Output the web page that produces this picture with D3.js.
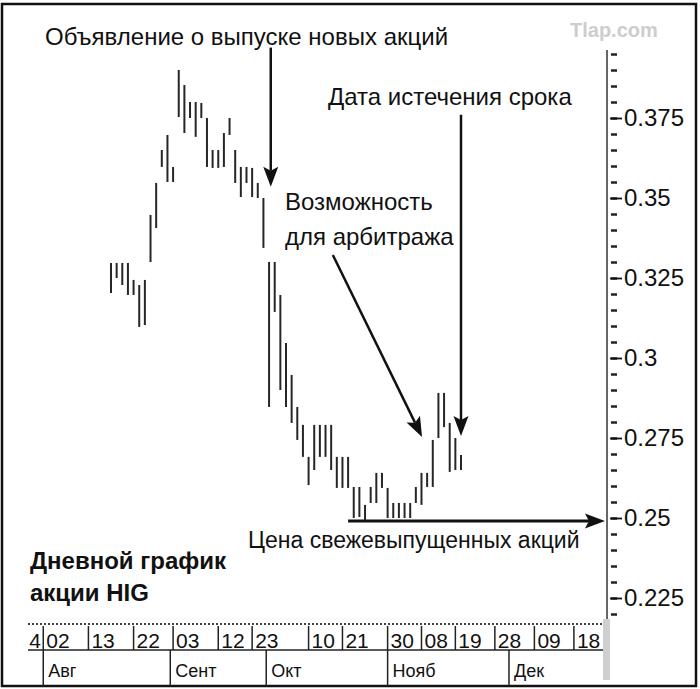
<!DOCTYPE html>
<html>
<head>
<meta charset="utf-8">
<script src="https://cdn.jsdelivr.net/npm/d3@7"></script>
<style>
  body { margin: 0; background: #fff; }
  svg { display: block; font-family: "Liberation Sans", Arial, sans-serif; }
</style>
</head>
<body>
<div id="chart"></div>
<script>
// daily high / low, one entry per trading day
const highs = [0.3297, 0.3297, 0.3297, 0.3297, 0.3244, 0.3228, 0.3244, 0.3447, 0.3547, 0.365,
               0.3697, 0.3597, 0.39, 0.3853, 0.38, 0.38, 0.3797, 0.375, 0.365, 0.365,
               0.3703, 0.375, 0.365, 0.3597, 0.3597, 0.3594, 0.3547, 0.35, 0.33, 0.33,
               0.3197, 0.3047, 0.2947, 0.2847, 0.2791, 0.2691, 0.2791, 0.2791, 0.2791, 0.2791,
               0.2691, 0.2691, 0.2691, 0.2597, 0.2597, 0.2541, 0.2597, 0.2641, 0.2641, 0.2594,
               0.2547, 0.2547, 0.2547, 0.2547, 0.2597, 0.2641, 0.2641, 0.2744, 0.2891, 0.2891,
               0.2797, 0.275, 0.2697];
const lows  = [0.3203, 0.325, 0.3228, 0.3197, 0.3197, 0.3097, 0.3103, 0.33, 0.3406, 0.3597,
               0.355, 0.355, 0.3753, 0.3703, 0.375, 0.3691, 0.375, 0.3597, 0.3594, 0.3594,
               0.3597, 0.3697, 0.3547, 0.3503, 0.3547, 0.3503, 0.35, 0.3344, 0.2847, 0.3144,
               0.29, 0.2847, 0.2797, 0.2744, 0.2691, 0.2603, 0.265, 0.2691, 0.2691, 0.265,
               0.2594, 0.2594, 0.2594, 0.25, 0.2503, 0.2494, 0.2547, 0.2547, 0.2594, 0.25,
               0.25, 0.25, 0.25, 0.25, 0.2547, 0.2541, 0.2597, 0.2597, 0.275, 0.2784,
               0.2644, 0.265, 0.265];

const yTicks = [0.225, 0.25, 0.275, 0.3, 0.325, 0.35, 0.375];

const dayLabels = ["4", "02", "13", "22", "03", "12", "23", "10", "21", "30", "08", "19", "28", "09", "18"];
const dayIndex  = [-15, -12, -4, 4, 11, 19, 25, 35, 41, 49, 55, 61, 68, 75, 82];

const monthLabels = ["Авг", "Сент", "Окт", "Нояб", "Дек"];
const monthIndex  = [-12, 10.5, 27.5, 49, 70.5];

// arrows: [fromIndex, fromValue, toIndex, toValue, strokeWidth]
const arrows = [
    [28.3, 0.397, 28.3, 0.3535, 2.5],
    [62, 0.376, 62, 0.2756, 2.5],
    [39.3, 0.3322, 55.1, 0.2753, 2.5],
    [42, 0.2491, 87.5, 0.2491, 3]
];

const width = 700, height = 689;

const svg = d3.select("#chart")
    .append("svg")
    .attr("width", width)
    .attr("height", height);

svg.append("rect")
    .attr("x", 2).attr("y", 4)
    .attr("width", 694).attr("height", 682)
    .attr("fill", "#fff")
    .attr("stroke", "#111")
    .attr("stroke-width", 2.5);

const x = d3.scaleLinear().domain([0, 62]).range([111, 461]);
const y = d3.scaleLinear().domain([0.225, 0.375]).range([598, 118]);

// price bars
svg.append("g")
    .selectAll("line")
    .data(highs)
    .join("line")
    .attr("x1", (d, i) => x(i))
    .attr("x2", (d, i) => x(i))
    .attr("y1", d => y(d))
    .attr("y2", (d, i) => y(lows[i]))
    .attr("stroke", "#262626")
    .attr("stroke-width", 2);

// right axis
svg.append("line")
    .attr("x1", 607).attr("x2", 607)
    .attr("y1", 50).attr("y2", 620)
    .attr("stroke", "#333")
    .attr("stroke-width", 1.5);

svg.append("rect")
    .attr("x", 603).attr("y", 619)
    .attr("width", 7).attr("height", 61)
    .attr("fill", "#cfcfcf");

const minorAxis = d3.axisRight(y)
    .tickValues(d3.range(0.22, 0.3951, 0.005))
    .tickSize(6)
    .tickFormat("");

svg.append("g")
    .attr("transform", "translate(611,0)")
    .call(minorAxis)
    .call(g => g.select(".domain").remove())
    .selectAll("line")
    .attr("stroke", "#222")
    .attr("stroke-width", 2.5);

const majorAxis = d3.axisRight(y)
    .tickValues(yTicks)
    .tickSize(12)
    .tickPadding(2)
    .tickFormat(d => String(+d.toFixed(3)));

svg.append("g")
    .attr("transform", "translate(610,0)")
    .call(majorAxis)
    .call(g => g.select(".domain").remove())
    .call(g => g.selectAll("line").attr("stroke", "#111").attr("stroke-width", 1.8))
    .call(g => g.selectAll("text")
        .attr("fill", "#111")
        .style("font-size", "24px")
        .style("font-family", "'Liberation Sans', Arial, sans-serif"));

// bottom date axis
svg.append("clipPath").attr("id", "axclip")
    .append("rect").attr("x", 28).attr("y", 600).attr("width", 575).attr("height", 88);

const bottom = svg.append("g").attr("clip-path", "url(#axclip)");

bottom.append("line")
    .attr("x1", 28).attr("x2", 603)
    .attr("y1", 624).attr("y2", 624)
    .attr("stroke", "#444")
    .attr("stroke-width", 2)
    .attr("stroke-dasharray", "2,2");

bottom.append("line")
    .attr("x1", 28).attr("x2", 603)
    .attr("y1", 650).attr("y2", 650)
    .attr("stroke", "#222")
    .attr("stroke-width", 1.5);

bottom.selectAll(".daysep")
    .data(dayIndex)
    .join("line")
    .attr("class", "daysep")
    .attr("x1", d => x(d)).attr("x2", d => x(d))
    .attr("y1", 626).attr("y2", 650)
    .attr("stroke", "#222")
    .attr("stroke-width", 1.5);

bottom.selectAll(".daylab")
    .data(dayLabels)
    .join("text")
    .attr("class", "daylab")
    .attr("x", (d, i) => x(dayIndex[i]) + 3)
    .attr("y", 648)
    .attr("fill", "#111")
    .style("font-size", "21px")
    .text(d => d);

bottom.selectAll(".monsep")
    .data(monthIndex)
    .join("line")
    .attr("class", "monsep")
    .attr("x1", d => x(d)).attr("x2", d => x(d))
    .attr("y1", 650).attr("y2", 686)
    .attr("stroke", "#222")
    .attr("stroke-width", 1.5);

bottom.selectAll(".monlab")
    .data(monthLabels)
    .join("text")
    .attr("class", "monlab")
    .attr("x", (d, i) => x(monthIndex[i]) + 5)
    .attr("y", 677)
    .attr("fill", "#111")
    .style("font-size", "18px")
    .text(d => d);

// arrows
arrows.forEach(([i1, v1, i2, v2, sw]) => {
    const x1 = x(i1), y1 = y(v1), x2 = x(i2), y2 = y(v2);
    const ang = Math.atan2(y2 - y1, x2 - x1);
    const len = 20, half = 7.5;
    const bx = x2 - len * Math.cos(ang), by = y2 - len * Math.sin(ang);
    svg.append("line")
        .attr("x1", x1).attr("y1", y1)
        .attr("x2", bx + 4 * Math.cos(ang)).attr("y2", by + 4 * Math.sin(ang))
        .attr("stroke", "#111")
        .attr("stroke-width", sw);
    const px = -Math.sin(ang) * half, py = Math.cos(ang) * half;
    svg.append("path")
        .attr("d", `M${x2},${y2}L${bx + px},${by + py}L${bx + 0.2 * (x2 - bx)},${by + 0.2 * (y2 - by)}L${bx - px},${by - py}Z`)
        .attr("fill", "#111");
});

// annotations
const notes = [
    ["Объявление о выпуске новых акций", 45, 45, 24],
    ["Дата истечения срока", 328, 105, 24],
    ["Возможность", 285, 210, 24],
    ["для арбитража", 285, 245, 24],
    ["Цена свежевыпущенных акций", 248, 548, 23]
];
svg.selectAll(".note")
    .data(notes)
    .join("text")
    .attr("class", "note")
    .attr("x", d => d[1])
    .attr("y", d => d[2])
    .attr("fill", "#111")
    .style("font-size", d => d[3] + "px")
    .text(d => d[0]);

svg.append("text")
    .attr("x", 30).attr("y", 569)
    .attr("fill", "#111")
    .style("font-size", "24px")
    .style("font-weight", "bold")
    .text("Дневной график");

svg.append("text")
    .attr("x", 30).attr("y", 601)
    .attr("fill", "#111")
    .style("font-size", "24px")
    .style("font-weight", "bold")
    .text("акции HIG");

svg.append("text")
    .attr("x", 570).attr("y", 37)
    .attr("fill", "#cdcdcd")
    .style("font-size", "20px")
    .style("font-weight", "bold")
    .text("Tlap.com");
</script>
</body>
</html>
